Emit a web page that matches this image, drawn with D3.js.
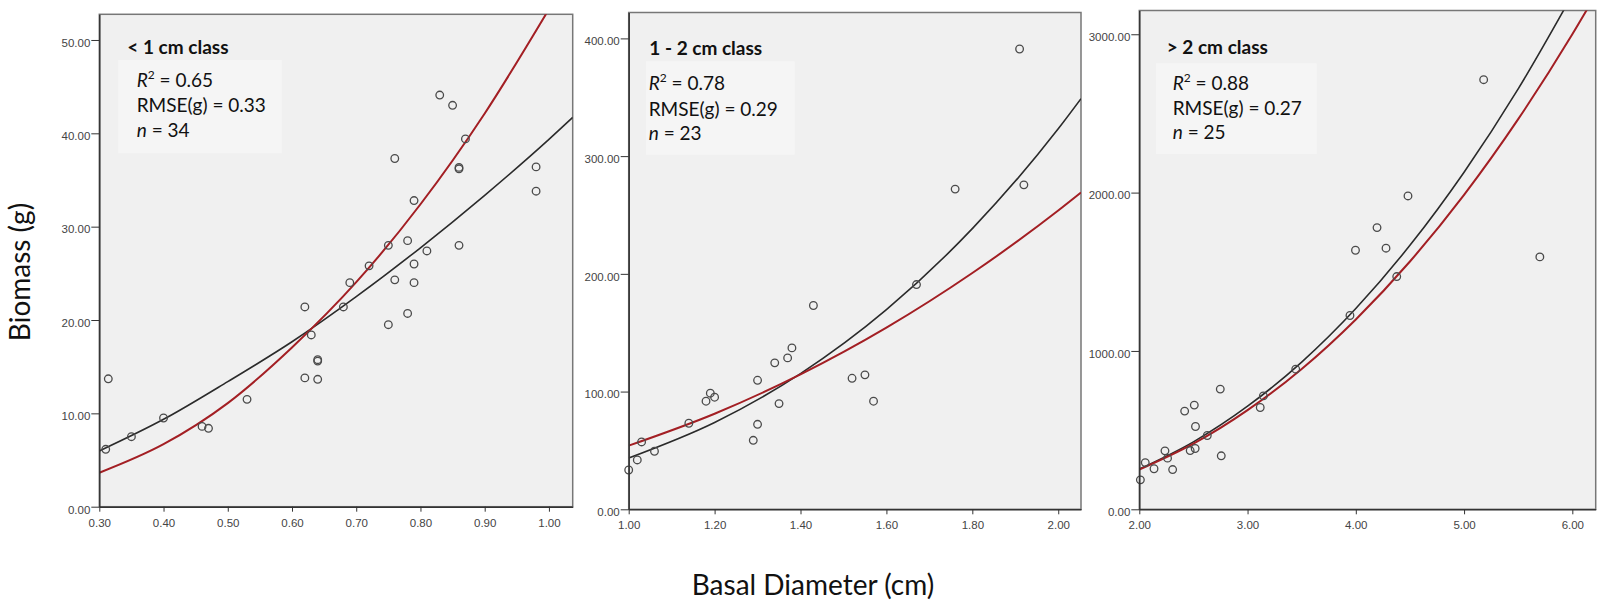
<!DOCTYPE html>
<html>
<head>
<meta charset="utf-8">
<script src="https://cdn.jsdelivr.net/npm/d3@7"></script>
<style>
  body { margin: 0; background: #fff; }
  svg { display: block; }
  .tick text { font-family: "Liberation Sans", Arial, sans-serif; font-size: 11.5px; fill: #444; }
  .tick line, .domain { stroke: #333; }
  .note { font-family: Lato, "Open Sans", sans-serif; font-size: 19px; fill: #111; }
  .title { font-family: Lato, "Open Sans", sans-serif; font-size: 19px; font-weight: bold; fill: #111; }
  .axisTitle { font-family: Lato, "Open Sans", sans-serif; font-size: 28px; fill: #111; }
</style>
</head>
<body>
<svg id="chart" width="1603" height="604"></svg>
<script>
// panel texts
const panelTitles = ['< 1 cm class', '1 - 2 cm class', '> 2 cm class']
const r2Values = ['0.65', '0.78', '0.88']
const rmseValues = ['0.33', '0.29', '0.27']
const nValues = [34, 23, 25]

// observed points [basal diameter, biomass]
const smallPoints = [
  [0.31, 6.15], [0.314, 13.7], [0.35, 7.5], [0.40, 9.5], [0.46, 8.6], [0.47, 8.4],
  [0.53, 11.5], [0.62, 13.8], [0.62, 21.4], [0.63, 18.4], [0.64, 13.65], [0.64, 15.6],
  [0.64, 15.75], [0.68, 21.4], [0.69, 24.0], [0.72, 25.8], [0.75, 19.5], [0.75, 28.0],
  [0.76, 24.3], [0.76, 37.3], [0.78, 20.7], [0.78, 28.5], [0.79, 24.0], [0.79, 26.0],
  [0.79, 32.8], [0.81, 27.4], [0.83, 44.1], [0.85, 43.0], [0.86, 28.0], [0.86, 36.2],
  [0.86, 36.35], [0.87, 39.4], [0.98, 33.8], [0.98, 36.4]
]
const midPoints = [
  [1.00, 33.4], [1.02, 41.9], [1.03, 57.2], [1.06, 49.3], [1.14, 73.1], [1.18, 91.8],
  [1.19, 98.6], [1.20, 95.2], [1.29, 58.6], [1.30, 72.2], [1.30, 109.6], [1.34, 124.4],
  [1.35, 89.8], [1.37, 128.6], [1.38, 137.1], [1.43, 173.1], [1.52, 111.3], [1.55, 114.2],
  [1.57, 91.8], [1.67, 190.9], [1.76, 272], [1.91, 391], [1.92, 275.6]
]
const largePoints = [
  [2.01, 186], [2.055, 295], [2.136, 256], [2.237, 369], [2.261, 323], [2.308, 251],
  [2.419, 620], [2.47, 371], [2.508, 658], [2.516, 384], [2.519, 523], [2.628, 466],
  [2.748, 759], [2.757, 338], [3.117, 643], [3.146, 716], [3.445, 885], [3.946, 1224],
  [3.997, 1636], [4.196, 1779], [4.279, 1649], [4.378, 1470], [4.482, 1979], [5.181, 2713],
  [5.70, 1594]
]

// fitted curves (black and red)
const smallBlack = [[0.30, 5.97], [0.40, 9.36], [0.50, 13.4], [0.60, 17.67], [0.70, 22.5], [0.80, 27.74], [0.90, 33.36], [1.00, 39.35], [1.037, 41.7]]
const smallRed = [[0.30, 3.64], [0.40, 6.7], [0.50, 11.1], [0.60, 17.06], [0.70, 24.05], [0.80, 32.4], [0.90, 42.13], [1.00, 53.3]]
const midBlack = [[1.00, 43.6], [1.20, 73.8], [1.40, 115.3], [1.60, 169.6], [1.80, 238.4], [2.00, 323.2], [2.053, 348.8]]
const midRed = [[1.00, 54.1], [1.20, 81.2], [1.40, 114.6], [1.60, 154.3], [1.80, 200.7], [2.00, 253.8], [2.053, 269.1]]
const largeBlack = [[2.0, 254], [2.5, 426], [3.0, 651], [3.5, 930], [4.0, 1268], [4.5, 1667], [5.0, 2129], [5.5, 2655], [6.0, 3249]]
const largeRed = [[2.0, 250], [2.5, 414], [3.0, 626], [3.5, 886], [4.0, 1199], [4.5, 1565], [5.0, 1986], [5.5, 2464], [6.0, 3000], [6.216, 3250]]

// ticks
const xTicks = [
  [0.30, 0.40, 0.50, 0.60, 0.70, 0.80, 0.90, 1.00],
  [1.00, 1.20, 1.40, 1.60, 1.80, 2.00],
  [2, 3, 4, 5, 6]
]
const yTicks = [
  [0, 10, 20, 30, 40, 50],
  [0, 100, 200, 300, 400],
  [0, 1000, 2000, 3000]
]
const xDomains = [[0.30, 1.037], [1.00, 2.053], [2.00, 6.216]]
const yDomains = [[0, 52.75], [0, 422], [0, 3150]]

const points = [smallPoints, midPoints, largePoints]
const blackFits = [smallBlack, midBlack, largeBlack]
const redFits = [smallRed, midRed, largeRed]

// layout of each panel in px
const layout = [
  { left: 99.3, right: 572.7, top: 14.3, bottom: 506.7,
    title: [127.3, 54.3], box: [118.3, 60, 163.4, 93.3], text: [136.7, 87.3, 112.3, 136.7] },
  { left: 628.7, right: 1081, top: 12.5, bottom: 509.3,
    title: [649.3, 54.7], box: [646, 61.3, 148.7, 93.4], text: [648.7, 90.3, 116.3, 140.3] },
  { left: 1139.3, right: 1595.7, top: 10.5, bottom: 509.3,
    title: [1166.7, 54.3], box: [1156, 63.3, 160.7, 90.7], text: [1172.7, 90, 115, 139.3] }
]

const svg = d3.select('#chart')

layout.forEach((p, i) => {
  const x = d3.scaleLinear().domain(xDomains[i]).range([p.left, p.right])
  const y = d3.scaleLinear().domain(yDomains[i]).range([p.bottom, p.top])
  const g = svg.append('g')

  g.append('clipPath').attr('id', `clip${i}`)
    .append('rect')
    .attr('x', p.left).attr('y', p.top)
    .attr('width', p.right - p.left).attr('height', p.bottom - p.top)

  g.append('rect')
    .attr('x', p.left).attr('y', p.top)
    .attr('width', p.right - p.left).attr('height', p.bottom - p.top)
    .attr('fill', '#f0f0f0')
    .attr('stroke', '#777')
    .attr('stroke-width', 1.5)

  // info box
  g.append('rect')
    .attr('x', p.box[0]).attr('y', p.box[1])
    .attr('width', p.box[2]).attr('height', p.box[3])
    .attr('fill', '#f5f5f5')

  g.append('text').classed('title', true)
    .attr('x', p.title[0]).attr('y', p.title[1])
    .text(panelTitles[i])

  const r2 = g.append('text').classed('note', true)
    .attr('x', p.text[0]).attr('y', p.text[1])
  r2.append('tspan').attr('font-style', 'italic').text('R')
  r2.append('tspan').attr('font-size', '12px').attr('dy', -8).text('2')
  r2.append('tspan').attr('dy', 8).text(` = ${r2Values[i]}`)

  g.append('text').classed('note', true)
    .attr('x', p.text[0]).attr('y', p.text[2])
    .text(`RMSE(g) = ${rmseValues[i]}`)

  const nt = g.append('text').classed('note', true)
    .attr('x', p.text[0]).attr('y', p.text[3])
  nt.append('tspan').attr('font-style', 'italic').text('n')
  nt.append('tspan').text(` = ${nValues[i]}`)

  // fitted lines
  const line = d3.line()
    .x(d => x(d[0]))
    .y(d => y(d[1]))
    .curve(d3.curveMonotoneX)

  const fits = g.append('g').attr('clip-path', `url(#clip${i})`)
  fits.append('path')
    .attr('d', line(blackFits[i]))
    .attr('fill', 'none')
    .attr('stroke', '#2b2b2b')
    .attr('stroke-width', 1.6)
  fits.append('path')
    .attr('d', line(redFits[i]))
    .attr('fill', 'none')
    .attr('stroke', '#a31f24')
    .attr('stroke-width', 2)

  g.append('g')
    .selectAll('circle')
    .data(points[i])
    .join('circle')
    .attr('cx', d => x(d[0]))
    .attr('cy', d => y(d[1]))
    .attr('r', 3.8)
    .attr('fill', 'none')
    .attr('stroke', '#4a4a4a')
    .attr('stroke-width', 1.3)

  // axes
  const xAxis = g.append('g')
    .attr('transform', `translate(0, ${p.bottom})`)
    .call(d3.axisBottom(x).tickValues(xTicks[i]).tickFormat(d3.format('.2f')).tickSize(5).tickPadding(7).tickSizeOuter(0))
  xAxis.select('.domain').attr('stroke-width', 1.5)

  const yAxis = g.append('g')
    .attr('transform', `translate(${p.left}, 0)`)
    .call(d3.axisLeft(y).tickValues(yTicks[i]).tickFormat(d3.format('.2f')).tickSize(8).tickPadding(1).tickSizeOuter(0))
  yAxis.select('.domain').attr('stroke-width', 1.5)
  yAxis.selectAll('.tick text').attr('dy', '0.55em')
})

svg.append('text').classed('axisTitle', true)
  .attr('x', 813).attr('y', 595)
  .attr('text-anchor', 'middle')
  .text('Basal Diameter (cm)')

svg.append('text').classed('axisTitle', true)
  .attr('transform', 'translate(30, 272) rotate(-90)')
  .attr('text-anchor', 'middle')
  .text('Biomass (g)')
</script>
</body>
</html>
